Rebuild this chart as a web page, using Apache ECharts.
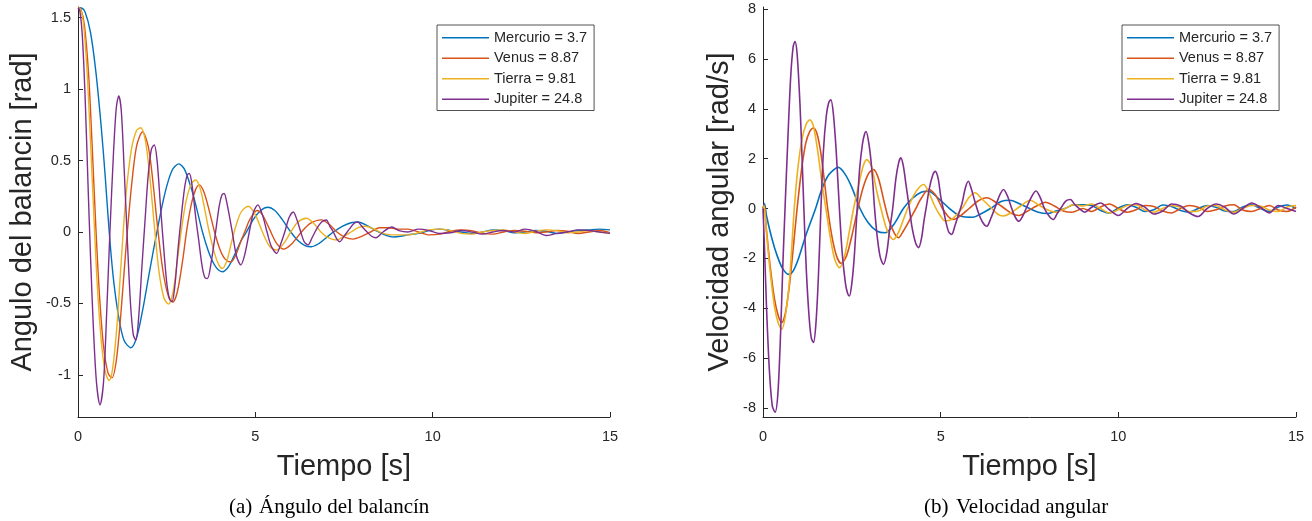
<!DOCTYPE html>
<html>
<head>
<meta charset="utf-8">
<title>Péndulo: ángulo y velocidad angular</title>
<script src="https://cdn.jsdelivr.net/npm/echarts@6/dist/echarts.min.js"></script>
<style>
  html, body { margin: 0; padding: 0; background: #fff; }
  #chart { width: 1312px; height: 521px; }
</style>
</head>
<body>
<div id="chart"></div>
<script>
// Axis ticks
const timeTicks = [0, 5, 10, 15];
const angleTicks = [-1, -0.5, 0, 0.5, 1, 1.5];
const velocityTicks = [-8, -6, -4, -2, 0, 2, 4, 6, 8];

// Series labels (gravity of each planet) and colours
const seriesNames = ['Mercurio = 3.7', 'Venus = 8.87', 'Tierra = 9.81', 'Jupiter = 24.8'];
const seriesColors = ['#0072BD', '#D95319', '#EDB120', '#7E2F8E'];

// Angle of the rocker [rad] — transient part, [t, value]
const angMercurio = [[0,1.57],[0.1,1.568],[0.2,1.54],[0.35,1.40],[0.5,1.13],[0.65,0.75],[0.77,0.38],[0.88,0.0],[1.0,-0.33],[1.15,-0.6],[1.3,-0.76],[1.49,-0.81],[1.65,-0.74],[1.82,-0.55],[2.0,-0.3],[2.24,0.02],[2.45,0.27],[2.65,0.43],[2.84,0.477],[3.0,0.44],[3.2,0.30],[3.35,0.16],[3.51,0.0],[3.7,-0.15],[3.9,-0.25],[4.07,-0.278],[4.25,-0.24],[4.45,-0.14],[4.6,-0.06],[4.75,0.0],[4.95,0.09],[5.15,0.15],[5.35,0.173],[5.55,0.15],[5.75,0.09],[6.0,0.0],[6.2,-0.06],[6.4,-0.095],[6.58,-0.103],[6.8,-0.08],[7.0,-0.04],[7.2,0.0],[7.45,0.04],[7.7,0.065],[7.9,0.07],[8.15,0.045],[8.4,0.01],[8.65,-0.02],[8.9,-0.035],[9.1,-0.03]];
const angVenus = [[0,1.57],[0.08,1.56],[0.18,1.45],[0.3,1.1],[0.4,0.6],[0.5,0.05],[0.6,-0.42],[0.72,-0.8],[0.85,-0.99],[0.96,-1.02],[1.08,-0.9],[1.2,-0.6],[1.35,-0.12],[1.5,0.3],[1.65,0.6],[1.82,0.70],[1.98,0.6],[2.1,0.38],[2.25,0.02],[2.4,-0.28],[2.55,-0.45],[2.67,-0.49],[2.8,-0.42],[2.95,-0.2],[3.07,0.02],[3.2,0.2],[3.32,0.3],[3.42,0.33],[3.55,0.28],[3.7,0.15],[3.85,0.0],[4.0,-0.12],[4.15,-0.19],[4.31,-0.21],[4.45,-0.16],[4.6,-0.06],[4.7,0.0],[4.85,0.09],[5.05,0.15],[5.2,0.12],[5.4,0.02],[5.6,-0.08],[5.8,-0.12],[6.0,-0.09],[6.3,0.0],[6.55,0.06],[6.86,0.085],[7.1,0.05],[7.3,0.0],[7.55,-0.04],[7.75,-0.05],[8.0,-0.03],[8.25,0.0],[8.5,0.03],[8.75,0.03],[9.0,0.02]];
const angTierra = [[0,1.57],[0.07,1.56],[0.15,1.47],[0.25,1.15],[0.35,0.65],[0.45,0.1],[0.55,-0.4],[0.67,-0.8],[0.78,-0.99],[0.88,-1.04],[0.98,-0.95],[1.1,-0.65],[1.22,-0.2],[1.35,0.25],[1.5,0.57],[1.65,0.71],[1.77,0.73],[1.9,0.64],[2.02,0.4],[2.15,0.05],[2.28,-0.27],[2.42,-0.46],[2.55,-0.505],[2.68,-0.42],[2.8,-0.2],[2.93,0.04],[3.05,0.22],[3.2,0.34],[3.32,0.364],[3.45,0.3],[3.58,0.15],[3.7,0.0],[3.85,-0.15],[3.97,-0.23],[4.07,-0.255],[4.2,-0.2],[4.32,-0.08],[4.45,0.04],[4.6,0.14],[4.8,0.18],[5.0,0.12],[5.2,0.0],[5.4,-0.1],[5.6,-0.126],[5.8,-0.08],[6.0,0.0],[6.2,0.07],[6.44,0.096],[6.65,0.06],[6.85,0.0],[7.05,-0.04],[7.29,-0.056],[7.5,-0.03],[7.7,0.0],[7.9,0.03],[8.1,0.04],[8.35,0.02],[8.6,-0.01],[8.85,-0.02],[9.05,-0.02]];
const angJupiter = [[0,1.57],[0.05,1.55],[0.12,1.38],[0.2,0.95],[0.28,0.35],[0.35,-0.15],[0.43,-0.65],[0.52,-1.05],[0.62,-1.21],[0.72,-1.05],[0.8,-0.62],[0.9,0.0],[1.0,0.55],[1.08,0.87],[1.15,0.953],[1.22,0.85],[1.3,0.45],[1.39,-0.05],[1.48,-0.5],[1.56,-0.72],[1.63,-0.757],[1.71,-0.6],[1.8,-0.25],[1.89,0.08],[1.98,0.4],[2.07,0.58],[2.15,0.61],[2.23,0.5],[2.32,0.2],[2.4,-0.06],[2.5,-0.35],[2.58,-0.47],[2.65,-0.488],[2.73,-0.38],[2.82,-0.12],[2.9,0.08],[3.0,0.3],[3.08,0.4],[3.14,0.41],[3.22,0.32],[3.32,0.1],[3.4,-0.05],[3.5,-0.24],[3.58,-0.32],[3.65,-0.325],[3.75,-0.22],[3.88,0.0],[3.98,0.18],[4.06,0.26],[4.12,0.27],[4.2,0.2],[4.35,0.0],[4.47,-0.17],[4.59,-0.23],[4.7,-0.16],[4.83,0.0],[4.95,0.14],[5.07,0.19],[5.2,0.12],[5.33,0.0],[5.45,-0.1],[5.6,-0.15],[5.72,-0.08],[5.83,0.0],[5.95,0.1],[6.07,0.14],[6.18,0.08],[6.28,0.0],[6.38,-0.07],[6.49,-0.09],[6.6,-0.04],[6.75,0.03],[6.87,0.07],[7.0,0.084],[7.1,0.04],[7.2,0.0],[7.3,-0.05],[7.38,-0.068],[7.5,-0.03],[7.65,0.02],[7.78,0.06],[7.89,0.07],[8.0,0.04],[8.15,0.0],[8.28,-0.03],[8.4,-0.04],[8.6,0.0],[8.85,0.035],[9.05,0.01]];

// Angle — settled part (sensor noise around zero)
const angTailTimes = [9.3,9.6,9.9,10.2,10.5,10.8,11.1,11.4,11.7,12.0,12.3,12.6,12.9,13.2,13.5,13.8,14.1,14.4,14.7,15.0];
const angMercurioTail = [-0.02,-0.01,0.01,0.02,0.01,0.0,-0.01,0.0,0.015,0.01,-0.005,0.0,0.01,0.005,-0.01,0.0,0.01,0.015,0.02,0.015];
const angVenusTail = [0.02,0.0,-0.02,-0.015,0.005,0.015,0.01,-0.01,-0.015,0.0,0.01,0.005,-0.005,0.0,0.01,0.005,-0.01,0.0,0.01,-0.005];
const angTierraTail = [-0.02,-0.005,0.015,0.02,0.01,-0.01,-0.015,0.0,0.01,0.015,0.0,-0.01,0.005,0.015,0.01,-0.005,0.0,0.01,0.0,-0.01];
const angJupiterTail = [0.0,0.02,0.01,-0.01,-0.005,0.01,0.0,-0.015,0.0,0.01,0.0,0.02,0.005,-0.025,-0.01,0.0,0.015,0.01,0.0,-0.01];

// Angular velocity [rad/s] — transient part, [t, value]
const velMercurio = [[0,0.0],[0.04,0.2],[0.1,-0.3],[0.25,-1.2],[0.4,-1.9],[0.55,-2.4],[0.72,-2.64],[0.85,-2.5],[1.0,-2.0],[1.2,-1.1],[1.48,0.0],[1.65,0.75],[1.85,1.35],[2.12,1.65],[2.3,1.4],[2.5,0.85],[2.73,0.0],[2.95,-0.55],[3.2,-0.9],[3.44,-0.97],[3.7,-0.6],[3.95,0.0],[4.2,0.4],[4.45,0.65],[4.66,0.69],[4.9,0.45],[5.25,0.0],[5.55,-0.3],[5.9,-0.35],[6.15,-0.2],[6.4,0.0],[6.7,0.28],[6.95,0.33],[7.2,0.2],[7.5,0.0],[7.75,-0.15],[8.0,-0.2],[8.25,-0.1],[8.5,0.0],[8.75,0.15],[9.0,0.15]];
const velVenus = [[0,0.0],[0.03,0.15],[0.1,-0.9],[0.2,-2.3],[0.32,-3.6],[0.43,-4.3],[0.53,-4.57],[0.63,-4.2],[0.75,-3.0],[0.85,-1.6],[0.96,0.0],[1.08,1.5],[1.2,2.6],[1.32,3.1],[1.42,3.23],[1.52,3.0],[1.62,2.3],[1.72,1.2],[1.82,0.0],[1.95,-1.2],[2.08,-1.95],[2.2,-2.2],[2.35,-1.9],[2.5,-1.1],[2.67,0.0],[2.82,0.85],[2.97,1.4],[3.11,1.56],[3.25,1.2],[3.42,0.2],[3.55,-0.5],[3.7,-1.0],[3.81,-1.17],[3.95,-0.9],[4.15,-0.4],[4.3,0.0],[4.45,0.4],[4.66,0.76],[4.85,0.55],[5.05,0.0],[5.2,-0.3],[5.35,-0.44],[5.55,-0.3],[5.8,0.0],[6.05,0.3],[6.3,0.43],[6.55,0.25],[6.8,0.0],[7.0,-0.2],[7.2,-0.28],[7.45,-0.1],[7.7,0.1],[7.95,0.25],[8.2,0.1],[8.45,-0.1],[8.7,-0.15],[9.0,0.0]];
const velTierra = [[0,0.0],[0.03,0.1],[0.1,-1.0],[0.2,-2.5],[0.32,-3.9],[0.43,-4.6],[0.53,-4.84],[0.63,-4.3],[0.75,-2.8],[0.88,0.0],[0.98,1.6],[1.1,2.8],[1.22,3.4],[1.32,3.56],[1.42,3.3],[1.55,2.2],[1.66,1.0],[1.77,0.0],[1.9,-1.2],[2.02,-2.05],[2.15,-2.37],[2.28,-2.0],[2.42,-1.0],[2.55,0.0],[2.7,1.0],[2.82,1.7],[2.92,1.96],[3.05,1.7],[3.2,0.7],[3.32,0.0],[3.45,-0.7],[3.57,-1.1],[3.67,-1.24],[3.8,-1.0],[3.95,-0.45],[4.07,0.0],[4.25,0.55],[4.4,0.85],[4.52,0.96],[4.65,0.7],[4.8,0.2],[4.95,-0.2],[5.13,-0.5],[5.3,-0.45],[5.6,0.0],[5.8,0.45],[5.97,0.63],[6.15,0.4],[6.44,0.0],[6.6,-0.22],[6.75,-0.3],[6.95,-0.2],[7.25,0.1],[7.52,0.33],[7.75,0.15],[8.0,-0.05],[8.25,-0.15],[8.5,0.0],[8.75,0.15],[9.0,0.1]];
const velJupiter = [[0,0.0],[0.04,-1.5],[0.1,-4.0],[0.18,-6.5],[0.26,-7.9],[0.34,-8.17],[0.42,-7.4],[0.5,-4.8],[0.56,-2.2],[0.62,0.0],[0.7,2.8],[0.78,5.3],[0.85,6.5],[0.9,6.69],[0.96,6.2],[1.04,4.2],[1.1,2.0],[1.15,0.0],[1.22,-2.5],[1.3,-4.4],[1.36,-5.2],[1.42,-5.37],[1.49,-4.6],[1.56,-2.7],[1.63,0.0],[1.7,2.3],[1.78,3.7],[1.85,4.25],[1.91,4.36],[1.98,3.8],[2.06,2.3],[2.15,0.0],[2.23,-1.8],[2.32,-3.0],[2.38,-3.4],[2.43,-3.51],[2.5,-3.0],[2.57,-1.9],[2.65,0.0],[2.72,1.6],[2.8,2.6],[2.86,3.0],[2.9,3.09],[2.98,2.6],[3.06,1.6],[3.14,0.0],[3.22,-1.2],[3.3,-1.95],[3.39,-2.24],[3.48,-1.8],[3.56,-0.9],[3.65,0.0],[3.74,1.2],[3.82,1.85],[3.88,2.03],[3.95,1.7],[4.03,0.9],[4.12,0.0],[4.2,-0.8],[4.3,-1.4],[4.38,-1.57],[4.46,-1.2],[4.53,-0.5],[4.6,0.1],[4.68,0.8],[4.78,1.35],[4.85,1.49],[4.93,1.2],[5.0,0.5],[5.07,0.0],[5.15,-0.55],[5.23,-0.95],[5.31,-1.04],[5.4,-0.7],[5.5,-0.25],[5.6,0.2],[5.7,0.85],[5.78,1.09],[5.86,0.8],[5.96,0.3],[6.07,-0.2],[6.18,-0.55],[6.3,-0.71],[6.41,-0.4],[6.52,0.0],[6.65,0.5],[6.77,0.76],[6.88,0.5],[7.0,0.0],[7.1,-0.35],[7.2,-0.51],[7.31,-0.3],[7.42,0.05],[7.55,0.45],[7.68,0.7],[7.8,0.45],[7.92,0.0],[8.05,-0.3],[8.17,-0.44],[8.28,-0.2],[8.4,0.05],[8.52,0.3],[8.65,0.36],[8.78,0.15],[8.9,0.0],[9.05,-0.15]];

// Angular velocity — settled part
const velTailTimes = [9.25,9.5,9.75,10.0,10.25,10.5,10.75,11.0,11.25,11.5,11.75,12.0,12.25,12.5,12.75,13.0,13.25,13.5,13.75,14.0,14.25,14.5,14.75,15.0];
const velMercurioTail = [0.12,-0.08,-0.18,0.02,0.15,0.05,-0.12,-0.05,0.14,0.08,-0.08,-0.15,0.0,0.12,0.05,-0.1,-0.12,0.06,0.15,0.0,-0.12,0.06,0.14,0.0];
const velVenusTail = [-0.12,0.06,0.18,0.0,-0.15,-0.05,0.12,0.08,-0.1,-0.18,0.0,0.12,0.05,-0.12,-0.05,0.1,0.15,-0.06,-0.12,0.0,0.12,-0.06,-0.12,0.06];
const velTierraTail = [0.18,0.0,-0.18,-0.05,0.12,0.15,-0.06,-0.15,0.0,0.12,0.05,-0.12,-0.1,0.1,0.12,-0.06,-0.15,0.0,0.12,0.1,-0.06,-0.12,0.06,0.12];
const velJupiterTail = [0.05,0.22,-0.05,-0.28,0.0,0.2,0.05,-0.22,-0.1,0.18,0.1,-0.18,-0.32,0.0,0.18,0.05,-0.22,0.0,0.22,0.05,-0.18,0.12,0.0,-0.12];

// Caption pieces: label and text
const captionLabels = ['(a)', '(b)'];
const captionTexts = ['Ángulo del balancín', 'Velocidad angular'];

function joinTail(head, times, tail) {
  return head.concat(times.map(function (t, i) { return [t, tail[i]]; }));
}

const angleData = [
  joinTail(angMercurio, angTailTimes, angMercurioTail),
  joinTail(angVenus, angTailTimes, angVenusTail),
  joinTail(angTierra, angTailTimes, angTierraTail),
  joinTail(angJupiter, angTailTimes, angJupiterTail)
];
const velocityData = [
  joinTail(velMercurio, velTailTimes, velMercurioTail),
  joinTail(velVenus, velTailTimes, velVenusTail),
  joinTail(velTierra, velTailTimes, velTierraTail),
  joinTail(velJupiter, velTailTimes, velJupiterTail)
];

const INK = '#262626';
const SANS = '"Liberation Sans", Arial, Helvetica, sans-serif';
const SERIF = '"Liberation Serif", "Times New Roman", serif';

function timeAxis(gridIndex) {
  return {
    type: 'value', gridIndex: gridIndex, min: 0, max: 15, interval: 5,
    axisLine: { show: true, onZero: false, lineStyle: { color: INK, width: 1 } },
    axisTick: { show: true, inside: true, length: 5, customValues: timeTicks, lineStyle: { color: INK, width: 1 } },
    axisLabel: { color: INK, fontFamily: SANS, fontSize: 14.5, margin: 12, customValues: timeTicks },
    splitLine: { show: false }
  };
}
function valueAxis(gridIndex, min, max, ticks) {
  return {
    type: 'value', gridIndex: gridIndex, min: min, max: max,
    axisLine: { show: true, onZero: false, lineStyle: { color: INK, width: 1 } },
    axisTick: { show: true, inside: true, length: 5, customValues: ticks, lineStyle: { color: INK, width: 1 } },
    axisLabel: { color: INK, fontFamily: SANS, fontSize: 14.5, margin: 7, customValues: ticks },
    splitLine: { show: false }
  };
}
function legendAt(left) {
  return {
    orient: 'vertical', left: left, top: 25,
    data: seriesNames,
    icon: 'rect', itemWidth: 47, itemHeight: 1.5, itemGap: 0,
    padding: [2.5, 7, 1, 5],
    backgroundColor: '#ffffff', borderColor: INK, borderWidth: 0.8, borderRadius: 0,
    selectedMode: false,
    textStyle: { color: INK, fontFamily: SANS, fontSize: 14.5, lineHeight: 20.5 }
  };
}
function text(x, y, str, font, size, fill, extra) {
  const style = { text: str, fontFamily: font, fontSize: size, fill: fill, align: 'center', verticalAlign: 'middle' };
  return Object.assign({ type: 'text', x: x, y: y, style: Object.assign(style, extra || {}) });
}

const series = [];
seriesNames.forEach(function (name, i) {
  series.push({
    name: name, type: 'line', xAxisIndex: 0, yAxisIndex: 0,
    data: angleData[i], showSymbol: false, symbol: 'none', smooth: 0.3,
    lineStyle: { color: seriesColors[i], width: 1.4 }, itemStyle: { color: seriesColors[i] },
    clip: true
  });
});
seriesNames.forEach(function (name, i) {
  series.push({
    name: name, type: 'line', xAxisIndex: 1, yAxisIndex: 1,
    data: velocityData[i], showSymbol: false, symbol: 'none', smooth: 0.3,
    lineStyle: { color: seriesColors[i], width: 1.6 }, itemStyle: { color: seriesColors[i] },
    clip: true
  });
});

const yTitleLeft = text(22.5, 212, 'Angulo del balancin [rad]', SANS, 29, INK);
yTitleLeft.rotation = Math.PI / 2;
const yTitleRight = text(719.5, 212, 'Velocidad angular [rad/s]', SANS, 29, INK);
yTitleRight.rotation = Math.PI / 2;

const chart = echarts.init(document.getElementById('chart'), null, { renderer: 'canvas' });
chart.setOption({
  backgroundColor: '#ffffff',
  animation: false,
  grid: [
    { left: 78, top: 7, width: 532, height: 410, outerBoundsMode: 'none' },
    { left: 763, top: 7, width: 533, height: 410, outerBoundsMode: 'none' }
  ],
  xAxis: [timeAxis(0), timeAxis(1)],
  yAxis: [
    valueAxis(0, -1.295, 1.575, angleTicks),
    valueAxis(1, -8.36, 8.08, velocityTicks)
  ],
  legend: [legendAt(437), legendAt(1122)],
  series: series,
  graphic: [
    yTitleLeft,
    yTitleRight,
    text(344, 466.5, 'Tiempo [s]', SANS, 29, INK),
    text(1029.5, 466.5, 'Tiempo [s]', SANS, 29, INK),
    text(229, 507, captionLabels[0], SERIF, 21, '#000', { align: 'left' }),
    text(259, 507, captionTexts[0], SERIF, 21, '#000', { align: 'left' }),
    text(924, 507, captionLabels[1], SERIF, 21, '#000', { align: 'left' }),
    text(956, 507, captionTexts[1], SERIF, 21, '#000', { align: 'left' })
  ]
});
</script>
</body>
</html>
